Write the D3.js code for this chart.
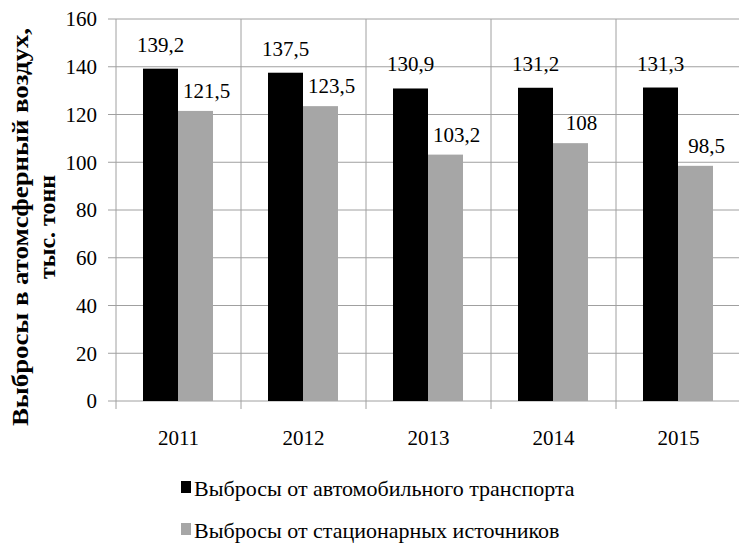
<!DOCTYPE html>
<html>
<head>
<meta charset="utf-8">
<script src="https://cdn.jsdelivr.net/npm/d3@7"></script>
<style>
  body { margin: 0; background: #fff; }
</style>
</head>
<body>
<div id="chart"></div>
<script>
// chart data
const years = ['2011', '2012', '2013', '2014', '2015'];
const seriesNames = ['Выбросы от автомобильного транспорта', 'Выбросы от стационарных источников'];
const transport = [139.2, 137.5, 130.9, 131.2, 131.3];
const stationary = [121.5, 123.5, 103.2, 108, 98.5];
const yTicks = [0, 20, 40, 60, 80, 100, 120, 140, 160];
const colors = ['#000000', '#a6a6a6'];

const W = 739, H = 545;
const margin = { top: 19, right: -2, bottom: 144, left: 116 };
const width = W - margin.left - margin.right;
const height = H - margin.top - margin.bottom;
const serif = '"Liberation Serif"';

const svg = d3.select('#chart')
  .append('svg')
  .attr('width', W)
  .attr('height', H)
  .style('font-family', serif);

const g = svg.append('g')
  .attr('transform', `translate(${margin.left},${margin.top})`);

const x = d3.scaleBand()
  .domain(years)
  .range([0, width])
  .padding(0);

// bars sit inside each category slot
const xs = d3.scaleBand()
  .domain([0, 1])
  .range([27, 97])
  .padding(0);

const y = d3.scaleLinear()
  .domain([0, 160])
  .range([height, 0]);

const gridColor = '#a0a0a0';

// horizontal grid lines
g.selectAll('.hgrid')
  .data(yTicks)
  .enter()
  .append('line')
  .attr('x1', -8)
  .attr('x2', width)
  .attr('y1', d => y(d))
  .attr('y2', d => y(d))
  .attr('stroke', gridColor)
  .attr('stroke-width', 1);

// vertical separators between categories
g.selectAll('.vgrid')
  .data(years)
  .enter()
  .append('line')
  .attr('x1', d => x(d))
  .attr('x2', d => x(d))
  .attr('y1', 0)
  .attr('y2', height + 8)
  .attr('stroke', gridColor)
  .attr('stroke-width', 1);

// y tick labels
g.selectAll('.ylab')
  .data(yTicks)
  .enter()
  .append('text')
  .attr('x', -19)
  .attr('y', d => y(d))
  .attr('dy', '0.35em')
  .attr('text-anchor', 'end')
  .style('font-family', serif)
  .style('font-size', '21px')
  .text(d => d);

// x labels
g.selectAll('.xlab')
  .data(years)
  .enter()
  .append('text')
  .attr('x', d => x(d) + x.bandwidth() / 2)
  .attr('y', height + 44)
  .attr('text-anchor', 'middle')
  .style('font-family', serif)
  .style('font-size', '21px')
  .text(d => d);

const rows = years.map((yr, i) => ({ year: yr, vals: [transport[i], stationary[i]] }));

const groups = g.selectAll('.grp')
  .data(rows)
  .enter()
  .append('g')
  .attr('transform', d => `translate(${x(d.year)},0)`);

groups.selectAll('rect')
  .data(d => d.vals.map((v, k) => ({ v, k })))
  .enter()
  .append('rect')
  .attr('x', d => xs(d.k))
  .attr('width', xs.bandwidth())
  .attr('y', d => y(d.v))
  .attr('height', d => height - y(d.v))
  .attr('fill', d => colors[d.k]);

groups.selectAll('.val')
  .data(d => d.vals.map((v, k) => ({ v, k })))
  .enter()
  .append('text')
  .attr('x', d => xs(d.k) + xs.bandwidth() / 2 + (d.k === 1 ? 11 : 0))
  .attr('y', d => y(d.v) - (d.k === 1 ? 13 : 17))
  .attr('text-anchor', 'middle')
  .style('font-family', serif)
  .style('font-size', '21px')
  .text(d => String(d.v).replace('.', ','));

// y axis title, stretched along its length like the source
const title = svg.append('text')
  .attr('transform', 'translate(28,227) rotate(-90)')
  .attr('text-anchor', 'middle')
  .style('font-family', serif)
  .style('font-size', '24px')
  .style('font-weight', 'bold');
title.append('tspan').attr('x', 0).attr('dy', 0)
  .attr('textLength', 398).attr('lengthAdjust', 'spacingAndGlyphs')
  .text('Выбросы в атомсферный воздух,');
title.append('tspan').attr('x', 0).attr('dy', 27)
  .attr('textLength', 104).attr('lengthAdjust', 'spacingAndGlyphs')
  .text('тыс. тонн');

// legend
const legend = svg.selectAll('.leg')
  .data(seriesNames)
  .enter()
  .append('g')
  .attr('transform', (d, i) => `translate(181,${496 + i * 42})`);

legend.append('rect')
  .attr('x', 0)
  .attr('y', -15)
  .attr('width', 10)
  .attr('height', 12)
  .attr('fill', (d, i) => colors[i]);

legend.append('text')
  .attr('x', 13)
  .attr('y', 0)
  .style('font-family', serif)
  .style('font-size', '22px')
  .text(d => d);
</script>
</body>
</html>
